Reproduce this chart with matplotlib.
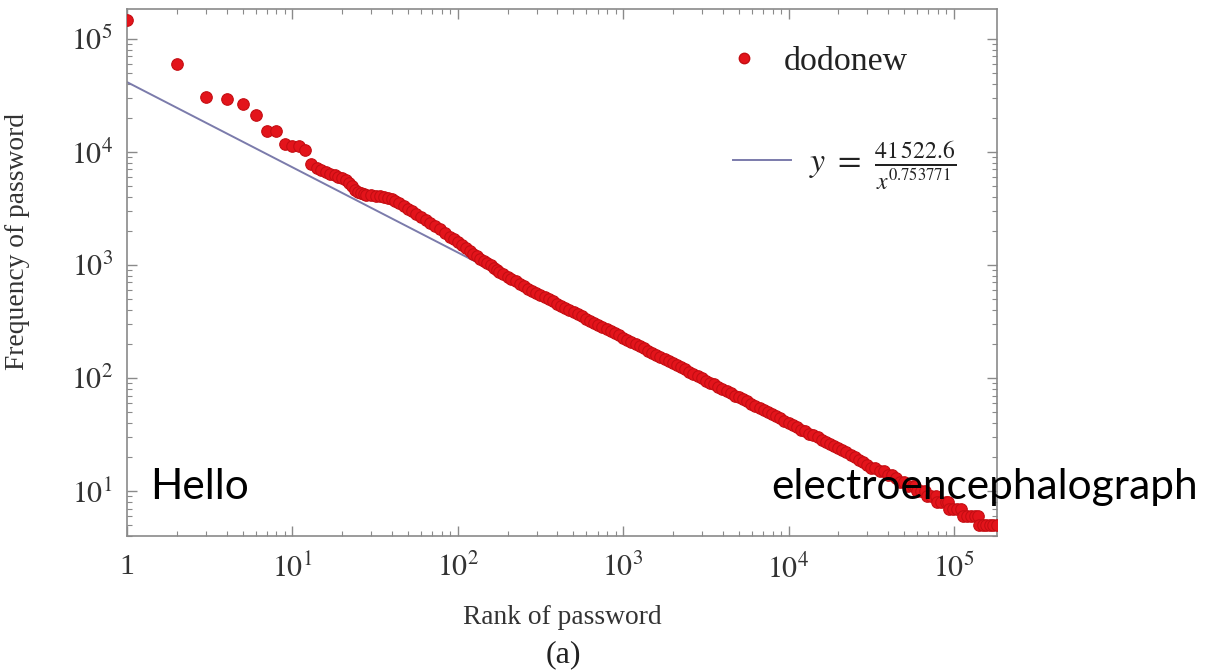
import numpy as np
import matplotlib
matplotlib.use("Agg")
import matplotlib.pyplot as plt
from matplotlib.lines import Line2D
from matplotlib.ticker import FixedLocator, FuncFormatter, LogLocator, NullFormatter

plt.rcParams['font.family'] = ['Liberation Serif', 'DejaVu Serif']
plt.rcParams['mathtext.fontset'] = 'stix'

# rank / frequency
rank = [1, 2, 3, 4, 5, 6, 7, 8, 9, 10, 11, 12,
        13, 14, 15, 16, 17, 18, 19, 20, 21, 22, 23, 24, 25, 26, 27, 28, 30, 32,
        34, 36, 38, 40, 42, 44, 47, 50, 53, 56, 60, 64, 68, 73, 78, 84, 90, 95,
        100, 106, 112, 118, 124, 130, 137, 144, 151, 158, 165, 172,
        178, 188, 200, 211, 224, 237, 251, 266, 282, 299, 316, 335, 355, 376,
        398, 422, 447, 473, 501, 531, 562, 596, 631, 668, 708, 750, 794, 841,
        891, 944, 1000, 1059, 1122, 1189, 1259, 1334, 1413, 1496, 1585, 1679,
        1778, 1884, 1995, 2113, 2239, 2371, 2512, 2661, 2818, 2985, 3162, 3350,
        3548, 3758, 3981, 4217, 4467, 4732, 5012, 5309, 5623, 5957, 6310, 6683,
        7079, 7499, 7943, 8414, 8913, 9441, 10000, 10593, 11220, 11885, 12589,
        13335, 14125, 14962, 15849, 16788, 17783, 18836, 19953, 21135, 22387,
        23714, 25119, 26607, 28184, 29854, 31623, 33497, 35481, 37584, 39811,
        42170, 44668, 47315, 50119, 53088, 56234, 58500,
        60000, 63500, 67000, 68500, 73000, 78000, 79000, 84000, 89000, 92000,
        93500, 99000, 105000, 111000, 113000, 120000, 127000, 134000, 139000,
        141000, 149000, 157000, 165000, 173000, 182000]
freq = [147000, 60000, 30800, 29600, 26700, 21400, 15300, 15300, 11800, 11300, 11300, 10300,
        7800, 7200, 6900, 6700, 6400, 6250, 6050, 5850, 5600, 5350, 5000, 4650, 4420, 4300, 4250, 4200, 4150, 4100,
        4070, 4030, 3950, 3800, 3650, 3500, 3300, 3130, 2980, 2850, 2660, 2500, 2360, 2220, 2070, 1920, 1780, 1690,
        1600, 1500, 1410, 1330, 1260, 1200, 1140, 1090, 1040, 990, 945, 905,
        870, 830, 790, 752, 715, 680, 650, 617, 591, 566, 542, 519, 497, 476,
        456, 436, 418, 400, 383, 367, 351, 336, 322, 308, 295, 283, 271, 259,
        248, 238, 228, 218, 209, 200, 191, 183, 175, 168, 161, 154,
        147, 141, 135, 129, 124, 119, 114, 109, 104, 100, 95, 91,
        88, 84, 80, 77, 74, 70, 68, 65, 62, 59, 57, 54,
        52, 50, 48, 46, 44, 42, 40, 38, 37, 35, 34,
        32, 31, 30, 28, 27, 26, 25, 24, 23, 22,
        21, 20, 19, 18, 17, 16, 16, 15, 15, 14,
        14, 13, 12, 12, 11, 11, 11,
        10, 10, 10, 9, 9, 9, 8, 8, 8, 8,
        7, 7, 7, 7, 6, 6, 6, 6, 6,
        5, 5, 5, 5, 5, 5]

# fitted power law shown in the legend
fit_a = 41522.6
fit_b = 0.753771

xmin, xmax = 1, 1.82e5
ymin, ymax = 4.0, 1.84e5

red = '#e3141b'
red_edge = '#c40d12'
blue = '#7b7bab'

fig = plt.figure(figsize=(12.23, 6.71), dpi=100)
ax = fig.add_axes([0.1038, 0.2012, 0.7114, 0.7854])

fit_x = np.array([xmin, xmax])
ax.plot(fit_x, fit_a / fit_x ** fit_b, color=blue, lw=1.4, zorder=2)
ax.plot(rank, freq, 'o', ms=8.3, color=red, mec=red_edge, mew=0.8, zorder=3)

ax.set_xscale('log')
ax.set_yscale('log')
ax.set_xlim(xmin, xmax)
ax.set_ylim(ymin, ymax)

ax.xaxis.set_major_locator(FixedLocator([1, 1e1, 1e2, 1e3, 1e4, 1e5]))
ax.yaxis.set_major_locator(FixedLocator([1e1, 1e2, 1e3, 1e4, 1e5]))
ax.xaxis.set_minor_locator(LogLocator(base=10, subs=np.arange(2, 10), numticks=20))
ax.yaxis.set_minor_locator(LogLocator(base=10, subs=np.arange(2, 10), numticks=20))
ax.xaxis.set_minor_formatter(NullFormatter())
ax.yaxis.set_minor_formatter(NullFormatter())


def log_label(v, pos):
    e = int(round(np.log10(v)))
    if e == 0:
        return '1'
    return r'$10^{%d}$' % e


ax.xaxis.set_major_formatter(FuncFormatter(log_label))
ax.yaxis.set_major_formatter(FuncFormatter(log_label))

for s in ax.spines.values():
    s.set_color('#8a8a8a')
    s.set_linewidth(1.2)
ax.tick_params(which='both', direction='in', top=True, right=True, colors='#8a8a8a',
               labelcolor='#333333', labelsize=21.5)
ax.tick_params(which='major', length=7, width=1)
ax.tick_params(which='minor', length=3.5, width=0.8)
ax.tick_params(axis='x', pad=13)
ax.tick_params(axis='y', pad=10)

ax.set_xlabel('Rank of password', fontsize=19.8, color='#333333')
ax.set_ylabel('Frequency of password', fontsize=19.8, color='#333333')
ax.xaxis.set_label_coords(0.5, -0.13)
ax.yaxis.set_label_coords(-0.111, 0.558)

# legend: two separate entries, placed like the original
leg_fs = 24.4
leg1 = ax.legend([Line2D([], [], ls='none', marker='o', ms=7.5, color=red, mec=red_edge)],
                 ['dodonew'], loc='center left', bbox_to_anchor=(736 / 1223, 1 - 62 / 671),
                 bbox_transform=fig.transFigure, frameon=False, fontsize=leg_fs,
                 handlelength=0.5, handletextpad=0.9, borderpad=0, borderaxespad=0,
                 labelcolor='#222222')
ax.add_artist(leg1)
ax.legend([Line2D([], [], color=blue, lw=1.4)],
          [r'$y\ =\ \frac{41\,522.6}{x^{0.753771}}$'], loc='center left',
          bbox_to_anchor=(733 / 1223, 1 - 166 / 671), bbox_transform=fig.transFigure,
          frameon=False, fontsize=leg_fs, handlelength=1.7, handletextpad=0.55,
          borderpad=0, borderaxespad=0, labelcolor='#222222')

fig.text(0.4606, 0.024, '(a)', fontsize=23, ha='center', va='center', color='#222222')

fig.text(150 / 1223, 0.2563, 'Hello', family=['Lato', 'DejaVu Sans'], fontsize=30.5,
         color='black', ha='left', va='baseline')
fig.text(771 / 1223, 0.2563, 'electroencephalograph', family=['Lato', 'DejaVu Sans'],
         fontsize=30.5, color='black', ha='left', va='baseline')

fig.savefig('out.png', dpi=100)
